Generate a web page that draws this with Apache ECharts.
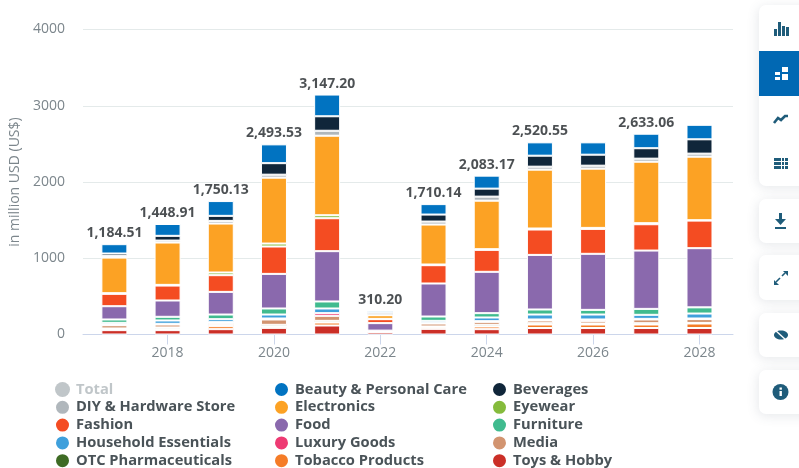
<!DOCTYPE html>
<html>
<head>
<meta charset="utf-8">
<title>Revenue by category</title>
<style>
html, body { margin: 0; padding: 0; background: #fff; }
#chart { width: 799px; height: 468px; }
</style>
<script src="https://cdn.jsdelivr.net/npm/echarts@6/dist/echarts.min.js"></script>
</head>
<body>
<div id="chart"></div>
<script>
var years = [2017, 2018, 2019, 2020, 2021, 2022, 2023, 2024, 2025, 2026, 2027, 2028];
var yearTicks = [2018, 2020, 2022, 2024, 2026, 2028];
var labelledYears = [2017, 2018, 2019, 2020, 2021, 2022, 2023, 2024, 2025, 2027];

var total = [1184.51, 1448.91, 1750.13, 2493.53, 3147.20, 310.20, 1710.14, 2083.17, 2520.55, 2520, 2633.06, 2750];
var beauty = [122.5, 155, 194, 246.5, 285, 26, 137, 170, 175, 162, 190, 190];
var beverages = [31, 62, 66, 151, 190, 25, 92, 105, 144, 144, 137, 188];
var diy = [22, 26, 35, 39, 65, 6, 39, 53, 39, 39, 40, 40];
var electronics = [467, 555, 642, 864, 1043, 48, 524, 636, 772, 777, 806, 833];
var eyewear = [9, 9, 35, 39, 39, 4, 9, 9, 13, 13, 14, 5];
var fashion = [162, 196, 219, 359, 432, 52, 240, 288, 333, 327, 345, 362];
var food = [174, 214, 297, 454, 660, 98, 433, 542, 716, 735, 765, 776];
var furniture = [44, 48, 61, 79, 92, 3, 57, 57, 66, 61, 78, 81];
var household = [22, 44, 39, 52, 61, 2, 26, 48, 65, 65, 53, 65];
var luxury = [9, 9, 13, 13, 35, 2, 9, 9, 13, 18, 8, 8];
var media = [43, 39, 22, 70, 66, 5, 39, 39, 36, 35, 49, 50];
var otc = [9, 18, 18, 22, 22, 3, 9, 22, 17, 13, 17, 8];
var tobacco = [13, 17, 39, 18, 39, 5, 22, 35, 46, 46, 46, 59];
var toys = [57, 57, 70, 87, 118, 31, 74, 70, 85, 85, 85, 85];

var legendCol1 = ['Total', 'DIY & Hardware Store', 'Fashion', 'Household Essentials', 'OTC Pharmaceuticals'];
var legendCol2 = ['Beauty & Personal Care', 'Electronics', 'Food', 'Luxury Goods', 'Tobacco Products'];
var legendCol3 = ['Beverages', 'Eyewear', 'Furniture', 'Media', 'Toys & Hobby'];

// 从下往上堆叠
var stackList = [
    { name : 'Toys & Hobby', color : '#cb2f27', values : toys },
    { name : 'Tobacco Products', color : '#f57c27', values : tobacco },
    { name : 'OTC Pharmaceuticals', color : '#3e6b24', values : otc },
    { name : 'Media', color : '#d29470', values : media },
    { name : 'Luxury Goods', color : '#ee3a73', values : luxury },
    { name : 'Household Essentials', color : '#3fa0dc', values : household },
    { name : 'Furniture', color : '#40bb8f', values : furniture },
    { name : 'Food', color : '#8a69ad', values : food },
    { name : 'Fashion', color : '#f44c22', values : fashion },
    { name : 'Eyewear', color : '#85bb3c', values : eyewear },
    { name : 'Electronics', color : '#fca224', values : electronics },
    { name : 'DIY & Hardware Store', color : '#b0b7bc', values : diy },
    { name : 'Beverages', color : '#10263a', values : beverages },
    { name : 'Beauty & Personal Care', color : '#0173c1', values : beauty }
];

// 数值放第一维,这样 stack 才会叠在数值上
function pairs(values) {
    return years.map(function(y, i) {
        return [ values[i], y ];
    });
}

var series = stackList.map(function(s) {
    return {
        name : s.name,
        type : 'bar',
        stack : 'all',
        barWidth : 26,
        silent : true,
        encode : { x : 1, y : 0 },
        itemStyle : { color : s.color, borderColor : '#fff', borderWidth : 1 },
        data : pairs(s.values)
    };
});

// Total 默认隐藏,只在图例里显示
series.push({
    name : 'Total',
    type : 'bar',
    barWidth : 26,
    encode : { x : 1, y : 0 },
    itemStyle : { color : '#c0c6c9' },
    data : pairs(total)
});

// 柱顶合计
series.push({
    name : 'sum',
    type : 'scatter',
    symbolSize : 0,
    silent : true,
    encode : { x : 1, y : 0 },
    label : {
        show : true,
        position : 'top',
        distance : 4,
        color : '#1f2428',
        fontFamily : 'Open Sans',
        fontWeight : 'bold',
        fontSize : 14,
        formatter : function(p) {
            return p.value[0].toLocaleString('en-US', { minimumFractionDigits : 2, maximumFractionDigits : 2 });
        }
    },
    data : pairs(total).filter(function(d) {
        return labelledYears.indexOf(d[1]) >= 0;
    })
});

function legendAt(left, names, selected) {
    var o = {
        left : left,
        top : 381,
        height : 90,
        orient : 'vertical',
        padding : 0,
        itemWidth : 15,
        itemHeight : 15,
        itemGap : 0.8,
        icon : 'circle',
        inactiveColor : '#c0c6c9',
        textStyle : { color : '#4a5358', fontFamily : 'Open Sans', fontWeight : 'bold', fontSize : 14.7, lineHeight : 17, padding : [ 0, 0, 0, 1 ] },
        data : names
    };
    if (selected) {
        o.selected = selected;
    }
    return o;
}

// 右侧工具栏
var iconColor = '#1f5c7a';
function panel(y, h) {
    return {
        type : 'rect',
        shape : { x : 759, y : y, width : 60, height : h, r : 7 },
        style : { fill : '#fff', shadowBlur : 12, shadowColor : 'rgba(60,80,100,0.13)', shadowOffsetX : -1, shadowOffsetY : 2 },
        silent : true
    };
}
function box(x, y, w, h, c) {
    return { type : 'rect', shape : { x : x, y : y, width : w, height : h }, style : { fill : c || iconColor }, silent : true };
}
function stroke(points, w) {
    return { type : 'polyline', shape : { points : points }, style : { fill : null, stroke : iconColor, lineWidth : w }, silent : true };
}
var toolbar = [
    panel(5, 181), panel(199, 44), panel(255, 45), panel(313, 44), panel(370, 44),
    box(759, 51, 40, 45, '#0168b3'),
    // 柱状图
    box(774, 29, 3, 7), box(778, 22, 3, 14), box(782, 26, 3, 10), box(786, 27, 3, 9),
    // 堆叠图
    box(775, 72, 5, 3, '#fff'), box(775, 77, 5, 3, '#fff'), box(782, 67, 6, 5, '#fff'), box(782, 74, 6, 6, '#fff'),
    // 折线图
    stroke([ [ 774, 123 ], [ 778, 118 ], [ 781, 120 ], [ 785, 116 ], [ 788, 116 ] ], 2.6),
    // 表格
    box(774, 158, 7, 3), box(774, 162, 7, 3), box(774, 166, 7, 3),
    box(782, 158, 2, 3), box(782, 162, 2, 3), box(782, 166, 2, 3),
    box(785, 158, 3, 3), box(785, 162, 3, 3), box(785, 166, 3, 3),
    // 下载
    box(779, 213, 3, 7),
    { type : 'polygon', shape : { points : [ [ 775, 219 ], [ 786, 219 ], [ 780.5, 225 ] ] }, style : { fill : iconColor }, silent : true },
    box(775, 227, 11, 2),
    // 全屏
    stroke([ [ 776, 282 ], [ 780, 278 ] ], 1.6),
    { type : 'polygon', shape : { points : [ [ 774, 280 ], [ 774, 285 ], [ 779, 285 ] ] }, style : { fill : iconColor }, silent : true },
    stroke([ [ 782, 276 ], [ 785, 273 ] ], 1.6),
    { type : 'polygon', shape : { points : [ [ 783, 271 ], [ 788, 271 ], [ 788, 276 ] ] }, style : { fill : iconColor }, silent : true },
    // 隐藏
    { type : 'ellipse', shape : { cx : 781, cy : 335, rx : 7, ry : 4.5 }, style : { fill : iconColor }, silent : true },
    { type : 'line', shape : { x1 : 775, y1 : 330, x2 : 787, y2 : 341 }, style : { stroke : '#fff', lineWidth : 1.4 }, silent : true },
    // 信息
    { type : 'circle', shape : { cx : 780.5, cy : 392, r : 8 }, style : { fill : iconColor }, silent : true },
    box(779.5, 391, 2.4, 5, '#fff'), box(779.5, 387.5, 2.4, 2.2, '#fff')
];

var chart = echarts.init(document.getElementById('chart'), null, { renderer : 'canvas' });
var option = {
    animation : false,
    backgroundColor : '#fff',
    grid : { left : 83, top : 29.5, width : 650, height : 305 },
    legend : [
        legendAt(54, legendCol1, { 'Total' : false }),
        legendAt(273, legendCol2),
        legendAt(491, legendCol3)
    ],
    xAxis : {
        type : 'value',
        min : 2016.41,
        max : 2028.63,
        splitLine : { show : false },
        axisLine : { show : true, lineStyle : { color : '#ccd6eb' } },
        axisTick : { show : true, length : 10, customValues : yearTicks, lineStyle : { color : '#ccd6eb' } },
        axisLabel : {
            customValues : yearTicks,
            color : '#7c868c',
            fontFamily : 'Open Sans',
            fontSize : 14,
            margin : 12,
            formatter : function(v) { return String(v); }
        }
    },
    yAxis : {
        type : 'value',
        min : 0,
        max : 4000,
        interval : 1000,
        name : 'in million USD (US$)',
        nameLocation : 'middle',
        nameGap : 61,
        nameTextStyle : { color : '#7c868c', fontFamily : 'Open Sans', fontSize : 14 },
        axisLine : { show : false },
        axisTick : { show : false },
        splitLine : { lineStyle : { color : '#e4eaea' } },
        axisLabel : {
            color : '#7c868c',
            fontFamily : 'Open Sans',
            fontSize : 14,
            margin : 18,
            padding : [ 3, 0, 0, 0 ],
            formatter : function(v) { return String(v); }
        }
    },
    graphic : { elements : toolbar },
    series : series
};
chart.setOption(option);
</script>
</body>
</html>
